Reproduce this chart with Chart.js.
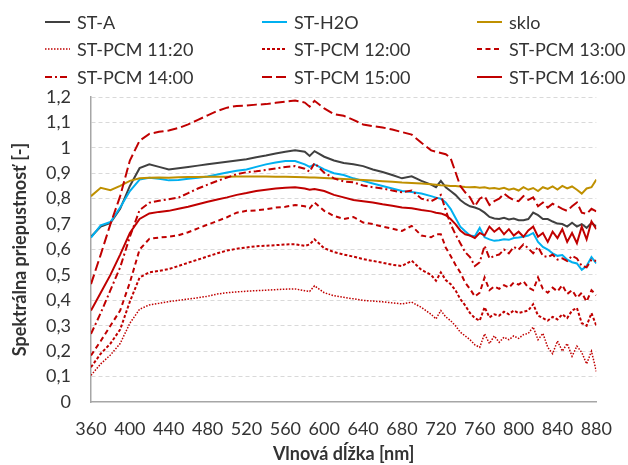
<!DOCTYPE html>
<html>
<head>
<meta charset="utf-8">
<script src="https://cdn.jsdelivr.net/npm/chart.js@4"></script>
<style>
  html, body { margin:0; padding:0; background:#fff; }
  #wrap { position:relative; width:628px; height:465px; }
  #legend { position:absolute; left:0; top:0; width:628px; height:95px; font-family:Lato, sans-serif; font-size:18px; color:#333; }
  .li { position:absolute; height:24px; display:flex; align-items:center; white-space:nowrap; }
  .li svg { margin-right:7px; }
</style>
</head>
<body>
<div id="wrap">
  <canvas id="c" width="628" height="465"></canvas>
  <div id="legend"></div>
</div>
<script>
// ---- data ----
const wavelengths = [360,370,380,390,400,410,420,430,440,450,460,470,480,490,500,510,520,530,540,550,560,570,580,585,590,600,610,620,630,640,650,660,670,680,690,700,710,715,720,725,730,735,740,745,750,755,760,765,770,775,780,785,790,795,800,805,810,815,820,825,830,835,840,845,850,855,860,865,870,875,880];

const seriesNames = ['ST-A','ST-H2O','sklo','ST-PCM 11:20','ST-PCM 12:00','ST-PCM 13:00','ST-PCM 14:00','ST-PCM 15:00','ST-PCM 16:00'];

const stA = [0.65,0.69,0.705,0.76,0.85,0.92,0.935,0.925,0.915,0.92,0.925,0.93,0.935,0.94,0.945,0.95,0.955,0.963,0.97,0.978,0.985,0.99,0.985,0.968,0.987,0.965,0.95,0.94,0.935,0.928,0.915,0.905,0.893,0.88,0.888,0.87,0.855,0.845,0.87,0.845,0.83,0.815,0.795,0.78,0.77,0.765,0.758,0.745,0.728,0.722,0.72,0.725,0.718,0.722,0.715,0.715,0.72,0.745,0.735,0.72,0.72,0.71,0.702,0.7,0.69,0.705,0.69,0.7,0.685,0.705,0.69];

const stH2O = [0.647,0.695,0.708,0.765,0.83,0.875,0.882,0.878,0.872,0.873,0.878,0.882,0.887,0.895,0.903,0.91,0.915,0.925,0.935,0.942,0.948,0.948,0.935,0.925,0.935,0.915,0.9,0.893,0.88,0.87,0.86,0.85,0.84,0.83,0.826,0.82,0.81,0.804,0.8,0.785,0.76,0.725,0.69,0.672,0.655,0.652,0.685,0.648,0.64,0.634,0.636,0.64,0.638,0.645,0.647,0.65,0.655,0.665,0.63,0.61,0.6,0.585,0.575,0.578,0.56,0.55,0.545,0.52,0.535,0.57,0.545];

const sklo = [0.81,0.843,0.833,0.85,0.87,0.88,0.882,0.883,0.882,0.884,0.885,0.885,0.886,0.886,0.886,0.887,0.887,0.887,0.887,0.886,0.886,0.885,0.884,0.883,0.883,0.881,0.879,0.877,0.875,0.873,0.871,0.869,0.867,0.864,0.862,0.86,0.857,0.855,0.853,0.852,0.85,0.85,0.848,0.846,0.845,0.846,0.843,0.845,0.84,0.842,0.838,0.843,0.835,0.84,0.832,0.845,0.835,0.842,0.83,0.845,0.838,0.848,0.836,0.85,0.84,0.848,0.835,0.82,0.84,0.845,0.875];

const pcm1120 = [0.105,0.15,0.185,0.23,0.31,0.365,0.382,0.388,0.395,0.4,0.405,0.41,0.416,0.425,0.43,0.433,0.436,0.438,0.44,0.442,0.444,0.445,0.438,0.435,0.457,0.43,0.418,0.412,0.406,0.4,0.397,0.394,0.39,0.386,0.393,0.372,0.345,0.327,0.36,0.335,0.32,0.3,0.275,0.26,0.245,0.225,0.215,0.268,0.23,0.26,0.235,0.255,0.245,0.26,0.25,0.265,0.27,0.295,0.245,0.27,0.215,0.19,0.24,0.2,0.23,0.18,0.22,0.195,0.15,0.2,0.12];

const pcm1200 = [0.137,0.19,0.23,0.285,0.395,0.49,0.51,0.516,0.523,0.535,0.548,0.56,0.573,0.585,0.596,0.603,0.608,0.613,0.615,0.617,0.62,0.621,0.614,0.62,0.64,0.605,0.59,0.58,0.572,0.562,0.555,0.548,0.54,0.535,0.556,0.52,0.5,0.477,0.51,0.48,0.464,0.44,0.405,0.38,0.35,0.33,0.32,0.373,0.333,0.345,0.34,0.355,0.345,0.36,0.35,0.355,0.36,0.385,0.34,0.33,0.32,0.335,0.325,0.345,0.33,0.36,0.37,0.31,0.3,0.35,0.3];

const pcm1300 = [0.183,0.24,0.3,0.36,0.47,0.6,0.642,0.647,0.65,0.656,0.668,0.683,0.698,0.712,0.727,0.745,0.752,0.754,0.758,0.765,0.768,0.775,0.77,0.762,0.785,0.752,0.732,0.72,0.728,0.706,0.7,0.69,0.682,0.673,0.693,0.655,0.648,0.66,0.66,0.608,0.575,0.54,0.51,0.47,0.445,0.415,0.43,0.49,0.44,0.455,0.445,0.46,0.45,0.47,0.462,0.475,0.45,0.44,0.49,0.445,0.43,0.45,0.435,0.46,0.425,0.44,0.41,0.43,0.395,0.44,0.42];

const pcm1400 = [0.268,0.35,0.44,0.53,0.65,0.755,0.784,0.792,0.798,0.804,0.822,0.84,0.855,0.87,0.883,0.896,0.904,0.908,0.913,0.919,0.925,0.928,0.918,0.906,0.94,0.902,0.88,0.868,0.864,0.852,0.845,0.84,0.832,0.825,0.832,0.8,0.79,0.8,0.815,0.755,0.7,0.66,0.625,0.59,0.57,0.535,0.55,0.615,0.565,0.575,0.58,0.6,0.585,0.61,0.6,0.62,0.605,0.585,0.61,0.575,0.57,0.58,0.56,0.565,0.555,0.575,0.565,0.535,0.53,0.56,0.555];

const pcm1500 = [0.464,0.58,0.7,0.81,0.95,1.028,1.055,1.063,1.068,1.078,1.092,1.11,1.128,1.145,1.158,1.165,1.166,1.17,1.172,1.177,1.182,1.186,1.178,1.162,1.185,1.155,1.132,1.126,1.11,1.092,1.085,1.08,1.072,1.062,1.052,1.02,0.99,0.985,0.98,0.975,0.96,0.905,0.85,0.825,0.805,0.77,0.8,0.81,0.775,0.79,0.8,0.82,0.805,0.795,0.79,0.81,0.795,0.805,0.77,0.785,0.765,0.78,0.77,0.76,0.752,0.77,0.785,0.745,0.74,0.76,0.75];

const pcm1600 = [0.36,0.43,0.5,0.58,0.665,0.72,0.742,0.748,0.752,0.76,0.768,0.778,0.788,0.797,0.805,0.815,0.822,0.83,0.835,0.84,0.843,0.845,0.84,0.835,0.838,0.83,0.815,0.805,0.795,0.79,0.785,0.778,0.772,0.765,0.762,0.755,0.75,0.745,0.742,0.735,0.72,0.7,0.675,0.66,0.655,0.645,0.665,0.655,0.69,0.67,0.685,0.66,0.68,0.655,0.67,0.65,0.675,0.69,0.65,0.665,0.63,0.67,0.645,0.68,0.63,0.665,0.625,0.69,0.64,0.71,0.68];

const yTicks = [0,0.1,0.2,0.3,0.4,0.5,0.6,0.7,0.8,0.9,1,1.1,1.2];
const xTicks = [360,400,440,480,520,560,600,640,680,720,760,800,840,880];

// ---- styles ----
const RED = '#C00000';
const styles = [
  {color:'#404040', dash:[], width:2},
  {color:'#00B0F0', dash:[], width:2},
  {color:'#BF9000', dash:[], width:2},
  {color:RED, dash:[1.5,1.5], width:1.5},
  {color:RED, dash:[3,2], width:2},
  {color:RED, dash:[5,3.5], width:2},
  {color:RED, dash:[7,3,2,3], width:2},
  {color:RED, dash:[10,4], width:2},
  {color:RED, dash:[], width:2}
];
const seriesValues = [stA, stH2O, sklo, pcm1120, pcm1200, pcm1300, pcm1400, pcm1500, pcm1600];

const datasets = seriesValues.map((vals, i) => ({
  label: seriesNames[i],
  data: vals.map((v, k) => ({x: wavelengths[k], y: v})),
  borderColor: styles[i].color,
  backgroundColor: styles[i].color,
  borderWidth: styles[i].width,
  borderDash: styles[i].dash,
  pointRadius: 0,
  tension: 0,
  fill: false,
  order: seriesValues.length - i
}));

const FONT = 'Lato, "Open Sans", sans-serif';

new Chart(document.getElementById('c'), {
  type: 'line',
  data: { datasets },
  options: {
    responsive: false,
    animation: false,
    layout: { padding: { top: 97, right: 25, left: 0, bottom: 0 } },
    plugins: { legend: { display: false }, tooltip: { enabled: false } },
    scales: {
      x: {
        type: 'linear', min: xTicks[0], max: xTicks[xTicks.length - 1],
        afterBuildTicks: s => { s.ticks = xTicks.map(v => ({value: v})); },
        ticks: { autoSkip: false, maxRotation: 0, padding: 16, color: '#333', font: { family: FONT, size: 18 }, callback: v => String(v) },
        grid: { display: true, color: 'rgba(0,0,0,0)', drawTicks: false },
        border: { display: true, color: '#a6a6a6', width: 1.5 },
        title: { display: true, text: 'Vlnová dĺžka [nm]', color: '#333', font: { family: FONT, size: 18, weight: 'bold' }, padding: { top: 0, bottom: 0 } },
        afterFit: s => { s.height = 63; }
      },
      y: {
        min: 0, max: 1.2,
        afterBuildTicks: s => { s.ticks = yTicks.map(v => ({value: v})); },
        ticks: { padding: 20, color: '#333', font: { family: FONT, size: 18 }, callback: v => String(Math.round(v * 10) / 10).replace('.', ',') },
        grid: { color: c => (c.tick && c.tick.value === 0) ? 'rgba(0,0,0,0)' : '#d9d9d9', lineWidth: 1, drawTicks: false },
        border: { display: true, color: '#a6a6a6', width: 1.5, dash: [4, 3] },
        title: { display: true, text: 'Spektrálna priepustnosť [-]', color: '#333', font: { family: FONT, size: 18, weight: 'bold' }, padding: { top: 9, bottom: 0 } },
        afterFit: s => { s.width = 91; }
      }
    }
  }
});

// ---- HTML legend (3 columns x 3 rows) ----
const legend = document.getElementById('legend');
const colX = [45, 262, 477];
const rowY = [22, 49, 77];
seriesNames.forEach((name, i) => {
  const col = i % 3, row = Math.floor(i / 3);
  const st = styles[i];
  const d = document.createElement('div');
  d.className = 'li';
  d.style.left = colX[col] + 'px';
  d.style.top = (rowY[row] - 12) + 'px';
  d.innerHTML = '<svg width="25" height="6"><line x1="0" y1="3" x2="25" y2="3" stroke="' + st.color + '" stroke-width="' + st.width + '"' +
    (st.dash.length ? ' stroke-dasharray="' + st.dash.join(' ') + '"' : '') + '/></svg><span>' + name + '</span>';
  legend.appendChild(d);
});
</script>
</body>
</html>
